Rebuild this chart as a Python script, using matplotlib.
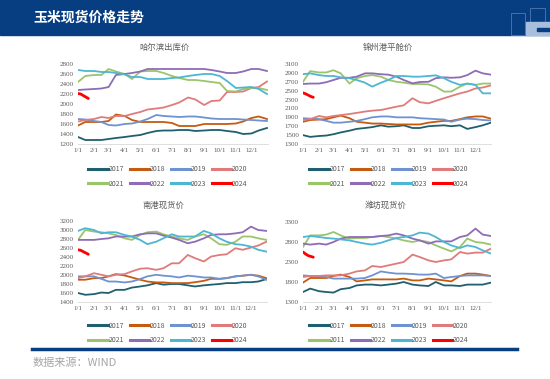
import numpy as np
import matplotlib
matplotlib.use("Agg")
import matplotlib.pyplot as plt
from matplotlib.patches import Rectangle
from matplotlib.lines import Line2D

plt.rcParams['font.family'] = ['Noto Sans CJK SC', 'DejaVu Sans']

# day of year for each sample (1/1, 1/15, 2/1, ... 12/15, 12/31)
days = [0, 14, 31, 45, 59, 73, 90, 104, 120, 134, 151, 165, 181, 195,
        212, 226, 243, 257, 273, 287, 304, 318, 334, 348, 364]
days_2024 = [0, 5, 10, 15, 20]

years = ['2017', '2018', '2019', '2020', '2021', '2022', '2023', '2024']
colors = ['#1F5F6E', '#C55A11', '#6F93D0', '#E07B7B',
          '#9BC56B', '#8E6CB6', '#4DB6D3', '#FF0000']

month_ticks = [0, 31, 59, 90, 120, 151, 181, 212, 243, 273, 304, 334]
month_labels = ['1/1', '2/1', '3/1', '4/1', '5/1', '6/1', '7/1', '8/1',
                '9/1', '10/1', '11/1', '12/1']

# 哈尔滨出库价
harbin = {
    '2017': [1340, 1280, 1280, 1280, 1300, 1320, 1340, 1360, 1380, 1420, 1460, 1470, 1470,
             1480, 1480, 1460, 1470, 1480, 1480, 1460, 1440, 1400, 1410, 1470, 1520],
    '2018': [1570, 1640, 1640, 1640, 1660, 1790, 1760, 1680, 1640, 1640, 1640, 1640, 1620,
             1560, 1560, 1560, 1600, 1600, 1600, 1600, 1610, 1650, 1720, 1750, 1700],
    '2019': [1700, 1690, 1660, 1640, 1580, 1570, 1600, 1610, 1650, 1700, 1780, 1760, 1750,
             1740, 1750, 1750, 1730, 1710, 1700, 1700, 1700, 1690, 1680, 1670, 1660],
    '2020': [1650, 1680, 1700, 1740, 1720, 1760, 1760, 1800, 1840, 1890, 1910, 1930, 1980,
             2030, 2130, 2090, 1980, 2060, 2070, 2240, 2240, 2250, 2320, 2340, 2450],
    '2021': [2440, 2560, 2580, 2580, 2700, 2650, 2600, 2500, 2650, 2660, 2660, 2620, 2560,
             2520, 2480, 2480, 2460, 2440, 2420, 2260, 2250, 2300, 2320, 2320, 2280],
    '2022': [2280, 2290, 2300, 2310, 2340, 2580, 2600, 2620, 2650, 2700, 2700, 2700, 2700,
             2700, 2700, 2700, 2700, 2680, 2650, 2620, 2620, 2650, 2700, 2700, 2660],
    '2023': [2680, 2660, 2660, 2640, 2640, 2620, 2590, 2540, 2540, 2500, 2500, 2500, 2520,
             2530, 2560, 2580, 2600, 2600, 2560, 2460, 2320, 2330, 2340, 2300, 2200],
    '2024': [2210, 2200, 2170, 2140, 2110],
}

# 锦州港平舱价
jinzhou = {
    '2017': [1500, 1460, 1480, 1490, 1520, 1560, 1600, 1640, 1660, 1680, 1720, 1690, 1700,
             1720, 1660, 1660, 1700, 1710, 1720, 1700, 1720, 1640, 1680, 1720, 1780],
    '2018': [1800, 1840, 1850, 1860, 1900, 1940, 1880, 1800, 1780, 1760, 1760, 1750, 1740,
             1740, 1740, 1740, 1780, 1800, 1820, 1820, 1860, 1900, 1920, 1920, 1870],
    '2019': [1880, 1870, 1860, 1820, 1780, 1780, 1800, 1820, 1860, 1900, 1920, 1920, 1900,
             1900, 1900, 1880, 1870, 1860, 1850, 1800, 1850, 1870, 1860, 1840, 1830],
    '2020': [1840, 1860, 1930, 1900, 1930, 1950, 1975, 2000, 2030, 2050, 2065, 2100, 2140,
             2170, 2330, 2240, 2215, 2270, 2330, 2380, 2440, 2480, 2550, 2570, 2620],
    '2021': [2700, 2940, 2910, 2910, 2960, 2890, 2660, 2780, 2830, 2850, 2815, 2740, 2700,
             2680, 2650, 2650, 2640, 2590, 2480, 2480, 2590, 2660, 2630, 2660, 2660],
    '2022': [2650, 2660, 2660, 2690, 2740, 2790, 2790, 2815, 2890, 2890, 2870, 2860, 2815,
             2740, 2665, 2695, 2700, 2780, 2800, 2790, 2800, 2850, 2950, 2890, 2860],
    '2023': [2870, 2890, 2850, 2830, 2830, 2800, 2780, 2740, 2680, 2590, 2680, 2740, 2830,
             2830, 2815, 2815, 2830, 2845, 2780, 2700, 2630, 2660, 2630, 2440, 2440],
    '2024': [2450, 2430, 2400, 2370, 2350],
}

# 南港现货价
nangang = {
    '2017': [1600, 1560, 1575, 1610, 1600, 1670, 1670, 1720, 1745, 1770, 1820, 1785, 1800,
             1800, 1770, 1745, 1770, 1785, 1800, 1820, 1820, 1840, 1840, 1855, 1910],
    '2018': [1895, 1895, 1930, 1930, 1970, 2020, 1990, 1945, 1895, 1855, 1835, 1835, 1820,
             1820, 1820, 1840, 1870, 1915, 1915, 1930, 1970, 1985, 2005, 1985, 1930],
    '2019': [1970, 1970, 1970, 1915, 1855, 1855, 1835, 1855, 1910, 1970, 2005, 1985, 1970,
             1945, 1985, 1970, 1945, 1945, 1915, 1930, 1970, 1985, 2005, 1970, 1895],
    '2020': [1930, 1970, 2040, 2005, 1970, 2005, 2020, 2080, 2140, 2150, 2115, 2150, 2260,
             2260, 2445, 2375, 2300, 2410, 2445, 2460, 2595, 2560, 2610, 2655, 2740],
    '2021': [2780, 3000, 2965, 2950, 2925, 2890, 2815, 2780, 2890, 2950, 2965, 2905, 2855,
             2815, 2780, 2855, 2905, 2815, 2685, 2670, 2740, 2855, 2855, 2815, 2780],
    '2022': [2780, 2780, 2780, 2800, 2815, 2855, 2855, 2855, 2905, 2925, 2925, 2875, 2830,
             2780, 2705, 2740, 2815, 2890, 2905, 2905, 2925, 2950, 3075, 3000, 2980],
    '2023': [2980, 3040, 3000, 2925, 2950, 2950, 2890, 2855, 2780, 2685, 2740, 2815, 2905,
             2855, 2855, 2855, 2980, 2925, 2815, 2740, 2685, 2670, 2630, 2560, 2520],
    '2024': [2560, 2550, 2520, 2490, 2460],
}

# 潍坊现货价
weifang = {
    '2017': [1550, 1635, 1570, 1550, 1535, 1620, 1650, 1715, 1735, 1735, 1715, 1735, 1760,
             1800, 1735, 1715, 1700, 1800, 1715, 1715, 1700, 1735, 1735, 1735, 1785],
    '2018': [1785, 1900, 1900, 1900, 1950, 1985, 1925, 1815, 1840, 1865, 1865, 1865, 1865,
             1885, 1840, 1840, 1885, 1865, 1840, 1815, 1950, 2010, 2010, 1985, 1950],
    '2019': [1965, 1950, 1950, 1925, 1885, 1885, 1885, 1885, 1900, 1965, 2065, 2035, 2010,
             2010, 2000, 1985, 1985, 2010, 1900, 1925, 1950, 1965, 1965, 1965, 1950],
    '2020': [1925, 1950, 1950, 1965, 1965, 1965, 2010, 2065, 2090, 2200, 2175, 2215, 2260,
             2300, 2485, 2425, 2340, 2300, 2340, 2365, 2550, 2510, 2535, 2535, 2635],
    '2021': [2675, 2965, 2965, 2985, 3050, 2965, 2885, 2900, 2900, 2925, 2950, 2925, 2885,
             2840, 2800, 2840, 2800, 2715, 2635, 2565, 2675, 2885, 2800, 2780, 2735],
    '2022': [2760, 2735, 2760, 2735, 2800, 2885, 2925, 2925, 2925, 2925, 2950, 2965, 3010,
             2965, 2885, 2840, 2760, 2815, 2815, 2815, 2925, 2965, 3135, 2985, 2950],
    '2023': [2925, 2950, 2925, 2900, 2885, 2865, 2840, 2800, 2760, 2735, 2780, 2840, 2900,
             2925, 2965, 3035, 3010, 2925, 2800, 2715, 2650, 2715, 2675, 2590, 2510],
    '2024': [2550, 2500, 2460, 2440, 2420],
}
# the original chart labels 2021 as "2011" in the Weifang legend
weifang_labels = ['2017', '2018', '2019', '2020', '2011', '2022', '2023', '2024']

W, H = 550, 379


def fx(x):
    return x / W


def fy(y):
    return 1 - y / H


def draw_panel(fig, rect, title, title_xy, data, yticks, legend_xy, labels):
    ax = fig.add_axes(rect)
    for yr, c in zip(years, colors):
        if yr == '2024':
            ax.plot(days_2024, data[yr], color=c, lw=2.0, solid_capstyle='round')
        else:
            ax.plot(days, data[yr], color=c, lw=1.3)
    ax.set_xlim(0, 365)
    ax.set_ylim(yticks[0], yticks[-1])
    ax.set_yticks(yticks)
    ax.set_xticks(month_ticks)
    ax.set_xticklabels(month_labels)
    ax.tick_params(length=0, labelsize=5, colors='#595959', pad=3)
    for lab in ax.get_xticklabels() + ax.get_yticklabels():
        lab.set_family('Liberation Serif')
    for s in ['top', 'right', 'left']:
        ax.spines[s].set_visible(False)
    ax.spines['bottom'].set_color('#D9D9D9')
    ax.spines['bottom'].set_linewidth(0.6)
    fig.text(fx(title_xy[0]), fy(title_xy[1]), title, ha='center', va='center',
             fontsize=6, color='#595959')
    # legend fills columns first, so reorder to get 2017-2020 on the first row
    order = [0, 4, 1, 5, 2, 6, 3, 7]
    handles = [Line2D([], [], color=colors[i], lw=2.2) for i in order]
    fig.legend(handles, [labels[i] for i in order], loc='center', ncol=4,
               bbox_to_anchor=(fx(legend_xy[0]), fy(legend_xy[1])),
               frameon=False, fontsize=5, handlelength=2.8, handletextpad=0.1,
               columnspacing=0.8, labelspacing=0.9, labelcolor='#595959')
    return ax


fig = plt.figure(figsize=(5.5, 3.79), dpi=100)

# header band
fig.add_artist(Rectangle((0, fy(35)), 1, 35 / H, transform=fig.transFigure,
                         color='#073E82', zorder=0))
fig.text(fx(33), fy(18), '玉米现货价格走势', color='white', fontsize=10,
         ha='left', va='center', fontweight='bold')
# logo outline in corner
fig.add_artist(Rectangle((fx(511), fy(35)), 14 / W, 22 / H, transform=fig.transFigure,
                         fill=False, edgecolor='#4F78B4', lw=0.6))
fig.add_artist(Rectangle((fx(530), fy(22)), 15 / W, 14 / H, transform=fig.transFigure,
                         fill=False, edgecolor='#4F78B4', lw=0.6))
fig.add_artist(Rectangle((fx(526), fy(35)), 24 / W, 13 / H, transform=fig.transFigure,
                         color='#A9BEDD'))
fig.add_artist(Rectangle((fx(537), fy(31)), 13 / W, 3 / H, transform=fig.transFigure,
                         color='#073E82'))

draw_panel(fig, [fx(78), fy(144), 189.5 / W, 80 / H], '哈尔滨出库价', (165, 47),
           harbin, list(range(1200, 2801, 200)), (168, 176.5), years)
draw_panel(fig, [fx(303), fy(144), 188.5 / W, 80 / H], '锦州港平舱价', (388, 47),
           jinzhou, list(range(1300, 3101, 200)), (389, 176.5), years)
draw_panel(fig, [fx(78), fy(302), 189 / W, 81 / H], '南港现货价', (163, 205),
           nangang, list(range(1400, 3201, 200)), (168, 333), years)
draw_panel(fig, [fx(303), fy(302), 188.5 / W, 80 / H], '潍坊现货价', (386, 205),
           weifang, list(range(1300, 3301, 500)), (389, 333), weifang_labels)

# footer
fig.add_artist(Line2D([fx(32), fx(517)], [fy(349), fy(349)], transform=fig.transFigure,
                      color='#073E82', lw=2.5))
fig.text(fx(33), fy(363), '数据来源：WIND', color='#A6A6A6', fontsize=8,
         ha='left', va='center')

fig.savefig('out.png', dpi=100)
